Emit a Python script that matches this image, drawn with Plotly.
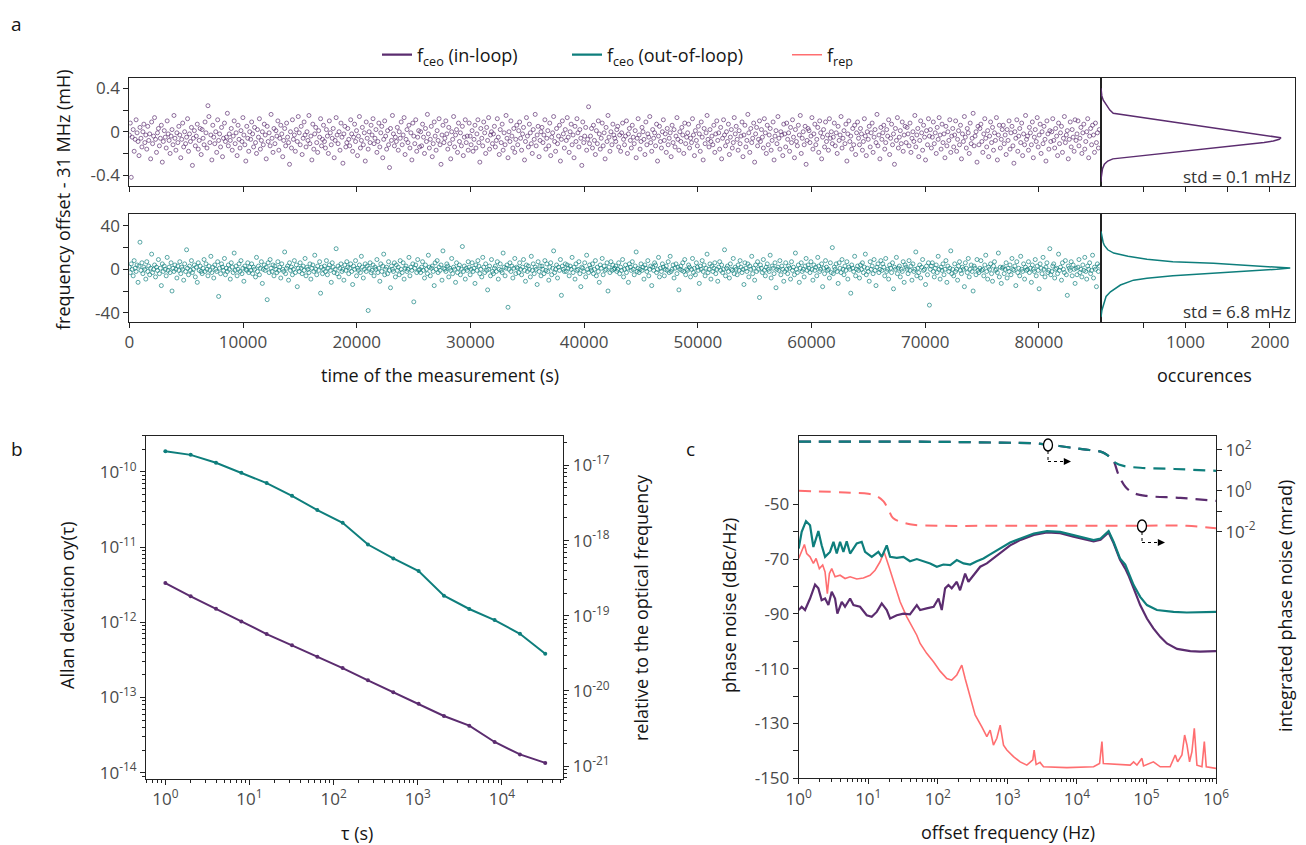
import numpy as np
import plotly.graph_objects as go

W, H = 1306, 845          # browser window
OFF = 8                   # page body margin
WF, HF = W - OFF, H - OFF  # figure size
PURPLE = '#5B2C6F'
TEAL = '#0E7E7C'
PINK = '#FF6E70'
FONT = 'Open Sans'
TICKC = '#4a4a4a'
TITLEC = '#151515'

# ---------------- data: panel a ----------------
sample_interval_s = 85.4  # spacing of the plotted samples (s)

# in-loop f_ceo offset, units of 0.01 mHz
inloop_offset_cmHz = [
    -3, 8, -42, -5, 2, -18, -7, 11, -1, -9, -22, 4, -6, -14, 0, 7, -10, -3, -16, 5, -8, -2, -25, 9, -11,
    -4, 13, -7, -19, -1, 3, -13, -6, 6, -28, -9, 1, -5, -15, 10, -2, -8, -20, -4, 2, -12, 15, -6, -17, -1,
    -10, 5, -3, -24, -7, 8, -14, 0, -11, -5, 12, -18, -2, -9, 4, -31, -6, 1, -13, -4, 7, -16, -8, 3, -21,
    2, -6, -12, 9, -1, -15, 24, 14, -10, -3, -26, 6, -5, -11, 0, -19, 11, -8, -2, -14, 4, -23, -6, 8, -9,
    -5, 17, -13, -2, -8, 3, -17, -4, 10, -11, -1, -22, 6, -7, -15, 1, -9, 13, -3, -12, -27, 5, -6, -18, 0,
    -7, 9, -2, -14, 4, -10, -20, 2, -5, 12, -16, -8, 0, -12, 7, -3, -25, 5, -9, -1, -13, 16, -6, -19, 3,
    -11, 1, -4, 10, -17, -6, 6, -2, -23, -8, 3, -13, 8, -5, -10, -30, 0, -15, 11, -7, -3, -18, 2, -9, 14,
    -1, -12, 5, -21, -6, 9, -3, -14, 0, -8, 15, -11, -4, -26, 7, -16, -2, 4, -10, -19, 1, -5, 12, -13, -7,
    6, -9, -15, 2, -4, -20, 10, -1, -12, -6, 3, -24, -8, 13, -3, -11, 0, -17, 8, -5, -29, -2, 5, -14, -10,
    3, -7, -13, 11, -2, -18, -5, 7, -9, 1, -22, -4, 14, -15, -8, 4, -12, -1, -27, 9, -6, -16, 0, -10, 6,
    -3, 12, -11, -6, 2, -19, -9, 8, -14, -1, 5, -24, -7, 10, -4, -16, 1, -12, -33, 3, -8, 15, -2, -13, -5,
    -9, 4, -17, 0, -6, 9, -12, -3, 13, -21, -7, 2, -10, 6, -15, -1, -26, 8, -4, -11, 11, -18, -5, 1, -14,
    0, -13, 7, -5, -20, 3, -9, 16, -2, -15, -7, 5, -23, -11, 9, -4, -17, 1, -8, 12, -12, -30, -3, 6, -10,
    -6, 10, -2, -16, 4, -11, -25, 0, -7, 14, -14, -3, 2, -19, 8, -9, -1, -13, 5, -22, -5, 11, -10, -4, -17,
    8, -4, -12, 1, -18, -7, 6, -15, -2, 11, -10, -28, 3, -6, -13, 9, -1, -20, 4, -8, 13, -16, -3, 0, -11,
    -2, 5, -14, -8, 12, -5, -21, 2, -10, 7, -17, -1, -12, 15, -6, -24, 0, -9, 10, -4, -15, 3, -19, -7, 6,
    -12, 1, 9, -6, -17, -2, 4, -26, -9, 13, -4, -14, 7, -1, -11, -20, 2, -7, 16, -13, -3, 5, -23, -8, 0,
    4, -10, -3, 11, -16, -6, 1, -13, 8, -22, -5, -1, 14, -9, -18, 3, -11, -4, 6, -27, -7, 10, -2, -15, 2,
    -8, 13, -5, -19, 0, 7, -12, -3, -24, 5, -9, 12, -1, -14, 2, -6, -31, 9, -10, -4, 4, -17, -7, 23, -11,
    -4, 3, -15, 6, -8, -21, 1, -11, 10, -2, -16, -6, 8, -13, -1, -25, 4, -9, 15, -5, -18, 0, -12, 7, -3,
    -6, -9, 2, 5, -14, -3, -18, -1, 8, -7, -12, -4, 10, -20, -2, 3, -8, -15, 6, -5, -11, 1, -24, -6, 12,
    -3, -16, -9, 4, 0, -7, -21, 9, -12, -2, -5, 14, -10, -18, 2, -6, -1, -13, 7, -27, -4, 5, -9, -15, 0,
    11, -8, -2, -19, 3, -12, -6, -1, -23, 6, -10, 2, -14, -4, 13, -7, -17, 0, -9, 4, -3, -20, 8, -11, -5,
    -1, 7, -15, -6, -10, 12, -3, -22, 1, -8, -13, 5, -2, -18, 9, -5, -26, 3, -11, -1, 15, -7, -14, 2, -9,
    -4, -12, 6, -19, -2, 10, -8, -1, -16, 4, -25, -6, 11, -3, -13, 0, -9, 7, -21, -5, 2, -15, -10, 13, -2,
    5, -7, -17, 1, -11, -4, 9, -23, -3, 6, -14, -8, 16, -1, -19, 3, -10, -6, 8, -28, -2, 4, -13, -7, 10,
    -9, 2, -5, -15, 12, -1, -20, 6, -12, -3, 3, -17, -8, 9, -26, -4, 1, -11, 14, -6, -16, 0, -3, -22, 7,
    -2, -14, 8, -7, -1, -18, 4, -10, 11, -5, -24, 2, -9, -13, 6, -3, 15, -20, -6, 0, -12, 5, -30, -8, 3,
    1, -10, -4, 13, -16, -2, 7, -12, -7, 4, -19, 10, -1, -25, -5, 2, -14, 9, -9, -3, -17, 12, -6, 0, -11,
    -5, 8, -13, -1, -20, 5, -8, -3, 14, -15, -6, 1, -11, 7, -27, -2, 10, -9, -4, -16, 3, -12, 6, -21, -1,
    9, -6, -12, 3, -2, -17, -9, 12, -4, -22, 0, -7, 5, -14, -1, 8, -19, -5, 2, -10, 16, -13, -3, -25, 4,
    -7, -1, 6, -16, -10, 2, -4, 11, -21, -6, 7, -12, -2, -30, 3, -8, 13, -15, -5, 1, -11, 9, -18, -3, 5,
    -10, 4, -2, -13, 8, -19, -6, 0, -9, 15, -14, -3, 3, -23, -8, 10, -1, -17, 6, -5, -26, 1, -12, 12, -4,
    2, -15, -5, 9, -11, -1, -20, 4, -7, 13, -3, -16, 7, -10, -2, -24, 5, -13, 0, -8, 11, -19, -4, 3, -14,
    -3, 10, -18, -7, 1, -12, 6, -25, -2, -9, 14, -5, -15, 3, -1, -20, 8, -11, -6, 17, -13, -4, 0, -28, 5,
    -12, 3, 7, -9, -19, -2, 12, -6, -14, 1, -23, -4, 9, -10, 4, -17, -1, -8, 13, -26, -3, 6, -15, -7, 2,
    6, -11, -3, -21, 2, -8, 10, -16, -1, 5, -13, -29, 0, -6, 11, -18, -4, 3, -10, 8, -22, -2, -12, 15, -7,
    -4, -17, 4, -1, -12, 9, -24, -5, 2, -9, 13, -14, -3, 7, -20, 0, -11, 5, -7, -27, 10, -2, -16, 1, -9,
    0, 12, -8, -15, 3, -4, -22, 8, -11, -1, 5, -19, -6, 14, -10, -3, 1, -25, -7, 9, -14, 2, -5, -18, 11,
    -8, -2, 10, -13, -6, 4, -20, -1, 7, -16, -9, 0, 12, -24, -4, 3, -12, 6, -3, -19, 8, -10, -1, -15, 2,
]

# out-of-loop f_ceo offset, mHz
outloop_offset_mHz = [
    2, -3, 5, 0, -6, 8, 1, -2, 4, -12, 3, 25, -1, 6, -4, 2, 0, -9, 7, -2, 3, -5, 1, 14, -3,
    0, 4, -7, 2, -1, 9, -4, 1, -15, 5, -2, 3, 0, -6, 11, -1, 2, -3, 6, -20, 1, -2, 4, 0, -8,
    3, -1, 7, -4, 2, 0, -10, 5, -2, 18, 1, -5, 3, -1, 8, -3, 0, 4, -7, 2, -12, 6, -1, 3, -2,
    -4, 1, 9, -2, 5, 0, -6, 3, -1, 12, -3, 2, -8, 4, 0, -2, 7, -25, 1, -4, 5, 2, -1, 10, -5,
    1, -2, 4, 0, -9, 6, 2, -3, 15, -1, 3, -6, 0, 5, -2, 8, -4, 1, -11, 3, 0, -1, 6, -3, 2,
    -1, 5, -4, 2, 0, -7, 11, -2, 3, -5, 1, 7, -13, 0, 4, -1, 2, -28, 6, -3, 9, 1, -2, 4, -6,
    3, 0, -3, 7, -1, 2, -8, 5, 0, -2, 16, -4, 1, 3, -10, 6, -1, 2, -5, 0, 8, -3, 4, -16, 1,
    -2, 6, 1, -4, 3, -1, 10, -6, 2, 0, -3, 5, -9, 1, 4, -2, 13, 0, -5, 3, -1, 7, -22, 2, -4,
    0, 3, -2, 8, -5, 1, 4, -1, -12, 6, 2, -3, 0, 19, -4, 3, -7, 1, 5, -2, 0, -10, 4, -1, 7,
    2, -4, 1, 5, -2, -14, 3, 0, 8, -6, 1, -1, 4, -3, 12, 2, -8, 0, 5, -2, 3, -38, 1, 6, -3,
    -1, 4, -6, 2, 0, 9, -3, 1, -11, 5, -2, 3, 14, -5, 0, 2, -4, 7, -1, -17, 3, 0, -2, 6, -7,
    4, -1, 2, -5, 8, 0, -3, 6, -9, 1, 3, -2, 0, 11, -6, 2, -1, 5, -30, 1, 4, -3, 9, -1, 0,
    -3, 2, 7, -1, -8, 4, 0, -4, 13, 2, -6, 1, 3, -2, -15, 6, 0, 8, -3, 2, -1, 4, -10, 17, 1,
    0, -2, 5, 3, -7, 1, -1, 10, -4, 2, 0, -12, 6, -3, 1, 4, -5, 0, 21, -2, 3, -9, 1, -1, 7,
    2, -5, 0, 6, -2, 1, -13, 4, -1, 8, 3, -4, 0, -7, 11, 2, -3, 5, -1, -19, 0, 3, -6, 9, -2,
    -4, 1, 3, -2, 7, -9, 0, 5, -1, -3, 15, 2, -6, 1, 4, -35, 0, 6, -2, 3, -8, 1, 10, -4, 2,
    1, -3, 6, 0, -5, 2, 9, -1, -11, 4, -2, 3, 0, -7, 12, -1, 5, -4, 2, 0, -14, 7, -2, 3, -6,
    3, 0, -4, 8, -1, 5, -2, -10, 2, 6, -5, 1, 17, -3, 0, 4, -8, 2, -1, 9, -24, 3, 0, -2, 5,
    -2, 4, 1, -6, 3, 0, 11, -3, 2, -9, 5, -1, 0, 7, -4, -16, 2, 1, -2, 6, -7, 13, 0, -3, 4,
    1, -1, 5, -4, 0, 8, -6, 2, -2, -12, 4, 1, 10, -5, 3, -1, 0, 6, -20, 2, -3, 7, -1, 4, 0,
    1, 3, -2, 0, 6, -4, 2, -1, 9, -7, 0, 4, -3, 1, -12, 5, 2, -1, 7, 0, -5, 3, 16, -2, 1,
    -3, 0, 5, -1, 2, -9, 4, 1, -2, 8, -6, 0, 3, -15, 2, -1, 6, 4, -3, 0, 11, -7, 1, -2, 5,
    2, -6, 0, 3, -1, 7, -3, 12, -2, 0, 4, -8, 1, 5, -4, 2, -19, 0, 3, -1, 6, -2, 9, -5, 0,
    -1, 4, 2, -7, 0, 10, -3, 1, -5, 6, 2, -1, -13, 3, 0, 8, -2, 4, -6, 1, 14, -3, 0, 5, -9,
    3, -2, 1, 6, -4, 0, -11, 2, 7, -1, 4, -3, 0, 18, -6, 1, 3, -2, -8, 5, 0, -1, 10, -4, 2,
    0, -5, 4, -1, 8, 2, -3, 0, -14, 6, 1, -2, 5, -7, 3, 0, 12, -4, 1, -10, 4, -2, 7, 0, -26,
    4, 1, -3, 9, -1, -6, 2, 5, 0, -2, 13, -8, 3, 1, -4, 6, -17, 0, 2, -1, 8, -5, 3, 0, -11,
    -2, 6, 0, -4, 3, 1, -9, 7, -1, 2, -5, 15, 0, -3, 4, -12, 1, 6, -2, 0, -7, 3, 10, -1, 4,
    1, -3, 7, 0, -10, 4, -1, 2, -6, 11, 3, -2, 0, 5, -16, 1, -4, 8, 2, -1, 0, -8, 6, -3, 20,
    -4, 2, 0, 5, -2, -13, 6, 1, -3, 9, 0, -5, 3, -1, 7, -9, 2, 0, -22, 4, 1, -2, 12, -6, 0,
    3, -1, -8, 4, 0, 6, -3, 2, 14, -5, 1, -2, -11, 7, 0, 3, -4, 9, -1, -15, 2, 5, -3, 0, 8,
    -1, 5, 2, -6, 10, -2, 0, -9, 4, 1, -3, 6, -18, 2, 0, 11, -4, 1, 3, -7, 0, -2, 7, -12, 4,
    2, 0, -4, 8, -1, 3, -10, 5, -2, 0, 16, -6, 1, -3, 4, -8, 2, 9, -1, 0, -14, 3, -5, 6, -33,
    0, 3, 6, -2, -7, 1, 4, -3, 12, 0, -9, 2, -1, 5, -5, 0, 8, -12, 3, -2, 1, 17, -4, 0, -6,
    5, -2, 0, -10, 3, 7, -1, -4, 2, 0, -16, 6, 1, -3, 10, -7, 0, 4, -2, -20, 3, 1, -5, 9, -1,
    -3, 1, 8, -1, 0, -6, 4, 13, -2, -9, 2, 0, 5, -4, -11, 3, 7, -1, 0, -3, 15, -7, 2, -13, 1,
    2, -4, 0, 6, -8, 1, -2, 4, -5, 10, 0, -1, 3, -15, 7, -3, 1, -6, 12, 0, -2, 5, -9, 2, -1,
    0, 7, -3, 1, -12, 4, 0, -2, 9, -6, 3, -1, -18, 5, 1, -4, 11, 0, -7, 2, 6, -3, -1, 19, -5,
    -2, 3, 5, -8, 0, 1, -4, 14, -1, 2, -10, 6, 0, -3, 8, -5, -24, 3, 1, -1, 7, -6, 4, 0, -13,
    1, -5, 2, 9, -3, 0, -7, 4, -1, 11, -2, -9, 3, 0, 6, -4, -1, 13, -8, 2, 0, -16, 5, -2, 3,
]

# histograms (value, occurrences)
hist_in_y = [0.40, 0.37, 0.33, 0.29, 0.26, 0.23, 0.20, 0.17, 0.14, 0.11, 0.08, 0.05, 0.02, 0.0,
             -0.02, -0.04, -0.055, -0.07, -0.085, -0.10, -0.12, -0.15, -0.18, -0.21, -0.24,
             -0.25, -0.27, -0.30, -0.34, -0.37, -0.42, -0.46]
hist_in_n = [0, 2, 10, 27, 50, 75, 105, 145, 410, 675, 940, 1205, 1470, 1650,
             1830, 2000, 2130, 2110, 2040, 1930, 1690, 1330, 975, 615, 260,
             140, 80, 40, 18, 10, 3, 0]
hist_out_y = [35, 30, 25, 22, 18, 15, 12, 9.2, 7, 5.5, 4, 2.5, 1.2, 0, -1.5, -3.7, -6,
              -8.3, -10, -14.5, -20.7, -25, -31.4, -38, -44]
hist_out_n = [0, 8, 25, 40, 80, 150, 320, 544, 850, 1331, 1650, 2050, 2240, 2080, 1750,
              1331, 850, 544, 385, 230, 112, 60, 31, 10, 0]

# ---------------- data: panel b (Allan deviation) ----------------
allan_tau = [1, 2, 4, 8, 16, 32, 64, 128, 256, 512, 1024, 2048, 4096, 8192, 16384, 32768]
allan_inloop = [3.32e-12, 2.21e-12, 1.51e-12, 1.02e-12, 6.97e-13, 4.93e-13, 3.48e-13, 2.46e-13,
                1.69e-13, 1.17e-13, 8.26e-14, 5.67e-14, 4.22e-14, 2.56e-14, 1.75e-14, 1.35e-14]
allan_outloop = [1.88e-10, 1.68e-10, 1.32e-10, 9.7e-11, 7.08e-11, 4.80e-11, 3.10e-11, 2.10e-11,
                 1.08e-11, 7.06e-12, 4.79e-12, 2.25e-12, 1.50e-12, 1.07e-12, 7.03e-13, 3.81e-13]

# ---------------- data: panel c (phase noise) ----------------
# log10 of offset frequency (Hz), and phase noise (dBc/Hz)
pn_out_logf = [0, 0.043, 0.105, 0.163, 0.211, 0.26, 0.283, 0.33, 0.379, 0.45, 0.5, 0.547, 0.595,
               0.643, 0.69, 0.739, 0.835, 0.906, 0.954, 1.05, 1.146, 1.194, 1.266, 1.314, 1.41,
               1.506, 1.6, 1.698, 1.794, 1.89, 1.986, 2.08, 2.18, 2.273, 2.37, 2.465, 2.56, 2.657,
               2.753, 2.849, 2.945, 3.04, 3.19, 3.38, 3.57, 3.76, 3.95, 4.14, 4.24, 4.34, 4.41,
               4.456, 4.527, 4.62, 4.695, 4.74, 4.816, 4.91, 5.007, 5.15, 5.39, 5.58, 5.77, 6.0]
pn_out_dbc = [-66.2, -60.1, -56.2, -57.7, -65.6, -61.3, -59.8, -65, -69.2, -67.4, -63.7, -68, -63.7,
              -67.4, -63.5, -68, -64.3, -63.7, -67.4, -69.2, -67.4, -69.2, -65, -69.2, -69.6,
              -69.2, -70.8, -70, -70.8, -71.6, -72.8, -72, -72.2, -70.4, -71.6, -72, -70.8, -69.8,
              -68.3, -66.8, -65.4, -64.0, -62.5, -60.7, -59.8, -60.1, -61.3, -62.5, -63.1, -62.5, -60.7,
              -59.8, -63.7, -69.8, -72, -74.7, -79.5, -83.8, -86.8, -88.6, -89.3, -89.5, -89.3, -89.3]

pn_in_logf = [0, 0.043, 0.091, 0.163, 0.235, 0.283, 0.33, 0.379, 0.427, 0.475, 0.523, 0.556, 0.619,
              0.666, 0.739, 0.787, 0.882, 0.978, 1.05, 1.122, 1.194, 1.266, 1.314, 1.41, 1.506,
              1.6, 1.698, 1.746, 1.84, 1.94, 2.01, 2.057, 2.105, 2.153, 2.2, 2.273, 2.32, 2.393,
              2.44, 2.513, 2.61, 2.705, 2.8, 2.897, 3.04, 3.19, 3.38, 3.57, 3.76, 3.95, 4.14,
              4.24, 4.34, 4.41, 4.456, 4.527, 4.62, 4.695, 4.74, 4.816, 4.91, 5.007, 5.1, 5.198,
              5.294, 5.44, 5.63, 5.77, 6.0]
pn_in_dbc = [-88.6, -87.4, -88.6, -84.4, -79.3, -80.7, -85, -84.4, -86.8, -81.9, -84.4, -89.9, -85.6,
             -87.4, -84.4, -86.8, -87.4, -90.5, -91.1, -89.3, -86.2, -88.6, -91.7, -90.5, -89.9,
             -90.2, -86.8, -88.6, -88, -87.4, -84.4, -88.6, -80.7, -79.5, -80.7, -78.3, -81.4, -75.3,
             -78.3, -75.9, -72.8, -71.6, -69.8, -68, -65.0, -63.0, -61.2, -60.3, -60.6, -61.8, -63.0,
             -63.6, -63.0, -61.2, -60.3, -64.2, -70.3, -73.5, -75.9, -80.7, -86.8, -91.7, -95.3, -98.4,
             -100.8, -102.8, -103.6, -103.8, -103.6]

pn_rep_logf = [0, 0.043, 0.082, 0.115, 0.163, 0.211, 0.25, 0.297, 0.345, 0.379, 0.412, 0.441, 0.475,
               0.523, 0.595, 0.667, 0.739, 0.835, 0.93, 1.026, 1.098, 1.17, 1.228, 1.29, 1.362,
               1.458, 1.554, 1.65, 1.698, 1.746, 1.84, 1.938, 2.033, 2.13, 2.2, 2.273, 2.345, 2.393,
               2.465, 2.537, 2.633, 2.705, 2.753, 2.8, 2.849, 2.897, 2.945, 2.993, 3.088, 3.184,
               3.28, 3.366, 3.385, 3.414, 3.47, 3.52, 3.856, 4.24, 4.326, 4.36, 4.38, 4.575, 4.767,
               4.815, 4.863, 4.935, 4.958, 5.1, 5.198, 5.34, 5.39, 5.414, 5.448, 5.51, 5.549, 5.583,
               5.62, 5.654, 5.688, 5.726, 5.798, 5.832, 5.86, 6.0]
pn_rep_dbc = [-69.8, -67.4, -64.7, -68, -69.2, -71.6, -69.8, -73.5, -72.2, -74.7, -82.6, -75.3, -73.5,
              -76.5, -75.9, -77.1, -76.5, -77.3, -76.9, -75.9, -74.1, -71, -67.4, -72.2, -78.3,
              -85.6, -91.1, -95.9, -97.8, -100.8, -104.4, -107.5, -110.9, -113.6, -114.2, -112.3, -108.7, -113.6,
              -120.8, -126.9, -131.2, -134.8, -132.4, -137.9, -135.4, -130.6, -137.9, -139.7, -142.1, -144,
              -145.2, -143.3, -139.7, -145, -144.2, -145.8, -146.1, -145.8, -144.6, -136.6, -144.6, -145, -145.2,
              -144, -145.2, -142.7, -145.5, -144, -145.8, -145.8, -143.3, -141.5, -144, -141.5, -134.2, -137.9,
              -144, -140.3, -131.8, -145.2, -145.8, -136.6, -145.8, -146.4]

# integrated phase noise (mrad) vs offset frequency (Hz)
int_f_out = [1, 10, 100, 794, 2400, 4170, 7940, 12600, 21900, 26300, 31600, 35500, 46800, 81300, 251000, 1e6]
int_out_mrad = [257, 257, 251, 229, 214, 178, 132, 107, 83, 62, 35.5, 24, 16.6, 13.5, 11.7, 9.5]
int_f_in = [1, 10, 100, 794, 2400, 4170, 7940, 12600, 21900, 26300, 33100, 39800, 50100, 64600, 100000, 309000, 1e6]
int_in_mrad = [257, 257, 251, 229, 214, 178, 132, 107, 83, 62, 31.6, 6.0, 1.55, 0.79, 0.56, 0.45, 0.32]
int_f_rep = [1, 5.5, 10, 13.2, 16.6, 20, 22.9, 39.8, 107, 1000, 100000, 380000, 1e6]
int_rep_mrad = [1.0, 0.81, 0.71, 0.55, 0.30, 0.10, 0.045, 0.023, 0.0195, 0.0195, 0.0195, 0.0195, 0.0145]

# ---------------- helpers ----------------
def fx(px):
    return (px - OFF) / WF

def fy(py):
    return 1 - (py - OFF) / HF

def minor_log(d0, d1):
    return [m * 10.0 ** d for d in range(d0, d1) for m in range(2, 10)]

def sup(e):
    return '10<sup>%s</sup>' % e

tickfont = dict(family=FONT, size=17, color=TICKC)
axbase = dict(showline=True, linecolor='#222', linewidth=1, mirror=True, ticks='outside',
              ticklen=5, tickwidth=1, tickcolor='#222', showgrid=False, zeroline=False,
              tickfont=tickfont, automargin=False)

t_in = np.arange(len(inloop_offset_cmHz)) * sample_interval_s
t_out = np.arange(len(outloop_offset_mHz)) * sample_interval_s

fig = go.Figure()

mk = dict(symbol='circle-open', size=4, opacity=0.85, line=dict(width=0.8))

# panel a: scatter
fig.add_trace(go.Scatter(x=t_in, y=np.array(inloop_offset_cmHz) * 0.01, mode='markers',
                         marker=dict(mk, color=PURPLE),
                         xaxis='x', yaxis='y', showlegend=False))
fig.add_trace(go.Scatter(x=hist_in_n, y=hist_in_y, mode='lines', line=dict(color=PURPLE, width=1.5),
                         xaxis='x2', yaxis='y2', showlegend=False))
fig.add_trace(go.Scatter(x=t_out, y=outloop_offset_mHz, mode='markers',
                         marker=dict(mk, color=TEAL),
                         xaxis='x3', yaxis='y3', showlegend=False))
fig.add_trace(go.Scatter(x=hist_out_n, y=hist_out_y, mode='lines', line=dict(color=TEAL, width=1.5),
                         xaxis='x4', yaxis='y4', showlegend=False))

# panel b: Allan deviation
fig.add_trace(go.Scatter(x=allan_tau, y=allan_inloop, mode='lines+markers',
                         line=dict(color=PURPLE, width=2), marker=dict(size=4, color=PURPLE),
                         xaxis='x5', yaxis='y5', showlegend=False))
fig.add_trace(go.Scatter(x=allan_tau, y=allan_outloop, mode='lines+markers',
                         line=dict(color=TEAL, width=2), marker=dict(size=4, color=TEAL),
                         xaxis='x5', yaxis='y5', showlegend=False))
fig.add_trace(go.Scatter(x=[], y=[], xaxis='x5', yaxis='y6', showlegend=False))

# panel c: phase noise (solid, left axis) with legend entries
fig.add_trace(go.Scatter(x=10 ** np.array(pn_rep_logf), y=pn_rep_dbc, mode='lines',
                         line=dict(color=PINK, width=1.6), xaxis='x7', yaxis='y7',
                         name='f<sub>rep</sub>', legend='legend3'))
fig.add_trace(go.Scatter(x=10 ** np.array(pn_in_logf), y=pn_in_dbc, mode='lines',
                         line=dict(color=PURPLE, width=2.2), xaxis='x7', yaxis='y7',
                         name='f<sub>ceo</sub> (in-loop)', legend='legend'))
fig.add_trace(go.Scatter(x=10 ** np.array(pn_out_logf), y=pn_out_dbc, mode='lines',
                         line=dict(color=TEAL, width=2.2), xaxis='x7', yaxis='y7',
                         name='f<sub>ceo</sub> (out-of-loop)', legend='legend2'))
# integrated (dashed, right axis)
fig.add_trace(go.Scatter(x=int_f_rep, y=int_rep_mrad, mode='lines', line=dict(color=PINK, width=2, dash='12px,8px'),
                         line_shape='spline', xaxis='x7', yaxis='y8', showlegend=False))
fig.add_trace(go.Scatter(x=int_f_in, y=int_in_mrad, mode='lines', line=dict(color=PURPLE, width=2.2, dash='12px,8px'),
                         line_shape='spline', xaxis='x7', yaxis='y8', showlegend=False))
fig.add_trace(go.Scatter(x=int_f_out, y=int_out_mrad, mode='lines', line=dict(color=TEAL, width=2.2, dash='12px,8px'),
                         line_shape='spline', xaxis='x7', yaxis='y8', showlegend=False))

# ---------------- axes ----------------
xa_dom = [fx(129.3), fx(1101)]
xh_dom = [fx(1101), fx(1295.3)]
ytop_dom = [fy(186), fy(77.5)]
ybot_dom = [fy(321.7), fy(214)]
time_ticks = list(range(0, 90000, 10000))

layout_axes = dict(
    xaxis=dict(axbase, domain=xa_dom, anchor='y', range=[0, 85460], tickvals=time_ticks,
               showticklabels=False),
    yaxis=dict(axbase, domain=ytop_dom, anchor='x', range=[-0.5, 0.5],
               tickvals=[-0.4, -0.2, 0, 0.2, 0.4], ticktext=['-0.4', '', '0', '', '0.4']),
    xaxis2=dict(axbase, domain=xh_dom, anchor='y2', range=[0, 2300],
                tickvals=[500, 1000, 1500, 2000], showticklabels=False),
    yaxis2=dict(axbase, domain=ytop_dom, anchor='x2', range=[-0.5, 0.5], ticks='',
                showticklabels=False),
    xaxis3=dict(axbase, domain=xa_dom, anchor='y3', range=[0, 85460], tickvals=time_ticks,
                ticktext=[str(v) for v in time_ticks]),
    yaxis3=dict(axbase, domain=ybot_dom, anchor='x3', range=[-48.3, 51],
                tickvals=[-40, -20, 0, 20, 40], ticktext=['-40', '', '0', '', '40']),
    xaxis4=dict(axbase, domain=xh_dom, anchor='y4', range=[0, 2300],
                tickvals=[500, 1000, 1500, 2000], ticktext=['', '1000', '', '2000']),
    yaxis4=dict(axbase, domain=ybot_dom, anchor='x4', range=[-48.3, 51], ticks='',
                showticklabels=False),
    xaxis5=dict(axbase, type='log', domain=[fx(146), fx(563.3)], anchor='y5', range=[-0.23, 4.73],
                tickvals=[1, 10, 100, 1000, 10000], ticktext=[sup(i) for i in range(5)],
                minor=dict(tickvals=minor_log(-1, 5), ticks='outside', ticklen=3, tickcolor='#222')),
    yaxis5=dict(axbase, type='log', domain=[fy(779), fy(435.7)], anchor='x5', range=[-14.084, -9.52],
                tickvals=[1e-14, 1e-13, 1e-12, 1e-11, 1e-10],
                ticktext=[sup('-14'), sup('-13'), sup('-12'), sup('-11'), sup('-10')],
                minor=dict(tickvals=minor_log(-15, -9), ticks='outside', ticklen=3, tickcolor='#222')),
    yaxis6=dict(axbase, type='log', overlaying='y5', side='right', anchor='x5', mirror=False,
                range=[-21.17, -16.606],
                tickvals=[1e-21, 1e-20, 1e-19, 1e-18, 1e-17],
                ticktext=[sup('-21'), sup('-20'), sup('-19'), sup('-18'), sup('-17')],
                minor=dict(tickvals=minor_log(-22, -16), ticks='outside', ticklen=3, tickcolor='#222')),
    xaxis7=dict(axbase, type='log', domain=[fx(798.7), fx(1216)], anchor='y7', range=[0, 6],
                tickvals=[1, 10, 100, 1e3, 1e4, 1e5, 1e6], ticktext=[sup(i) for i in range(7)],
                minor=dict(tickvals=minor_log(0, 6), ticks='outside', ticklen=3, tickcolor='#222')),
    yaxis7=dict(axbase, domain=[fy(778.3), fy(435.7)], anchor='x7', range=[-150, -25],
                tickvals=list(range(-150, -49, 10)),
                ticktext=['-150', '', '-130', '', '-110', '', '-90', '', '-70', '', '-50']),
    yaxis8=dict(axbase, type='log', overlaying='y7', side='right', anchor='x7', mirror=False,
                range=[-14.09, 2.70], tickvals=[1e-2, 1e-1, 1, 10, 100],
                ticktext=[sup('-2'), '', sup('0'), '', sup('2')]),
)

# ---------------- annotations ----------------
ann = []

def text(px, py, s, angle=0, size=18, xanchor='center', color=TITLEC, yanchor='middle'):
    ann.append(dict(x=fx(px), y=fy(py), xref='paper', yref='paper', text=s, showarrow=False,
                    textangle=angle, xanchor=xanchor, yanchor=yanchor,
                    font=dict(family=FONT, size=size, color=color)))

text(9, 8.5, 'a', size=19, xanchor='left', yanchor='top')
text(9, 449, 'b', size=19, xanchor='left')
text(684, 449, 'c', size=19, xanchor='left')
text(63, 200, 'frequency offset - 31 MHz (mH)', angle=-90)
text(440, 375, 'time of the measurement (s)')
text(1204, 375, 'occurences')
text(1293, 176, 'std = 0.1 mHz', xanchor='right', color='#333', size=17)
text(1293, 311, 'std = 6.8 mHz', xanchor='right', color='#333', size=17)
text(67, 605, 'Allan deviation σy(τ)', angle=-90)
text(357, 833, 'τ (s)')
text(641, 608, 'relative to the optical frequency', angle=-90)
text(729, 606, 'phase noise (dBc/Hz)', angle=-90)
text(1008, 832, 'offset frequency (Hz)')
text(1285, 606, 'integrated phase noise (mrad)', angle=-90)

# arrows pointing to the right axis
shapes = []
for cx, cy in [(1048, 445), (1142, 526)]:
    shapes.append(dict(type='circle', xref='paper', yref='paper', x0=fx(cx - 4.5), x1=fx(cx + 4.5),
                       y0=fy(cy + 6), y1=fy(cy - 6), line=dict(color='black', width=1.3),
                       fillcolor='white'))
    shapes.append(dict(type='line', xref='paper', yref='paper', x0=fx(cx), x1=fx(cx),
                       y0=fy(cy + 6), y1=fy(cy + 16), line=dict(color='black', width=1, dash='dot')))
    shapes.append(dict(type='line', xref='paper', yref='paper', x0=fx(cx), x1=fx(cx + 16),
                       y0=fy(cy + 16.5), y1=fy(cy + 16.5), line=dict(color='black', width=1, dash='dot')))
    ann.append(dict(x=fx(cx + 23), y=fy(cy + 16.5), xref='paper', yref='paper', ax=-8, ay=0,
                    showarrow=True, arrowhead=2, arrowsize=1.2, arrowwidth=1.2, arrowcolor='black', text=''))

leg = dict(orientation='h', y=fy(55), xanchor='left', yanchor='middle',
           font=dict(family=FONT, size=18, color=TITLEC), bgcolor='rgba(0,0,0,0)')

fig.update_layout(
    width=WF, height=HF, margin=dict(l=0, r=0, t=0, b=0, autoexpand=False),
    paper_bgcolor='white', plot_bgcolor='white',
    font=dict(family=FONT, size=17, color=TITLEC),
    legend=dict(leg, x=fx(377)),
    legend2=dict(leg, x=fx(567)),
    legend3=dict(leg, x=fx(787)),
    annotations=ann, shapes=shapes,
    **layout_axes,
)

fig.write_html('out.html')
